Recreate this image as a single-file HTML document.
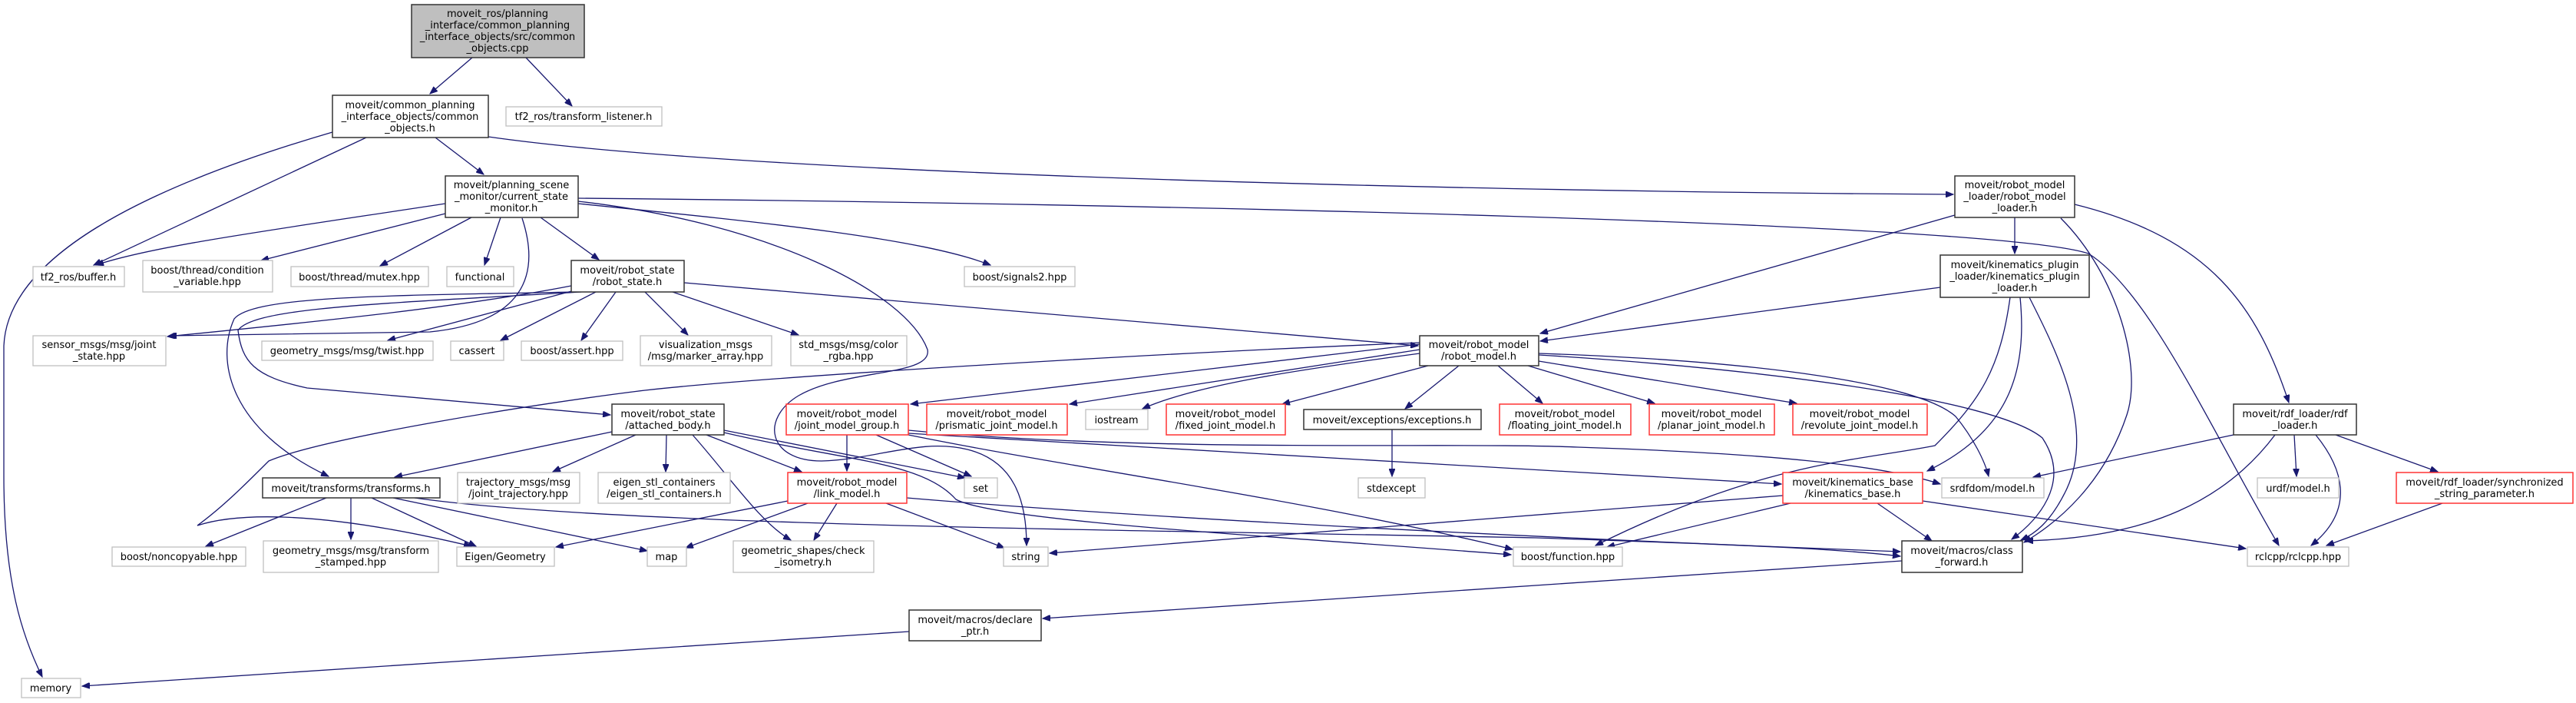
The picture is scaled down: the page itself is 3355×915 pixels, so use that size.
<!DOCTYPE html>
<html><head><meta charset="utf-8"><style>
html,body{margin:0;padding:0;background:#fff;}
svg{display:block;}
text{font-family:"DejaVu Sans","Liberation Sans",sans-serif;font-size:13px;fill:#000;text-anchor:middle;}
.e{fill:none;stroke:#191970;stroke-width:1.3;marker-end:url(#a);}
.g{fill:#fff;stroke:#bfbfbf;stroke-width:1.3;}
.k{fill:#fff;stroke:#333;stroke-width:1.5;}
.r{fill:#fff;stroke:#ff3333;stroke-width:1.5;}
.t{fill:#bfbfbf;stroke:#333;stroke-width:1.5;}
</style></head><body>
<svg width="3355" height="915" viewBox="0 0 3355 915" xmlns="http://www.w3.org/2000/svg">
<defs><marker id="a" markerWidth="11" markerHeight="8" refX="10" refY="4" orient="auto" markerUnits="userSpaceOnUse"><path d="M0,0 L10,4 L0,8 z" fill="#191970" stroke="#191970"/></marker></defs>
<g>
<path class="e" d="M615,75 L560,122"/>
<path class="e" d="M685,75 L745,138"/>
<path class="e" d="M433,172 C200,240 10,330 5,450 L5,620 C5,760 30,830 55,881"/>
<path class="e" d="M477,179 L122,345"/>
<path class="e" d="M567,179 L630,227"/>
<path class="e" d="M636,178 C1000,230 2000,250 2544,253"/>
<path class="e" d="M580,265 C350,300 200,320 125,345"/>
<path class="e" d="M580,278 L340,339"/>
<path class="e" d="M614,283 L495,346"/>
<path class="e" d="M652,283 L631,345"/>
<path class="e" d="M704,283 L780,338"/>
<path class="e" d="M753,265 C1000,290 1200,310 1290,345"/>
<path class="e" d="M753,258 C1500,265 2600,290 2720,330 C2800,380 2880,560 2968,710"/>
<path class="e" d="M680,284 C705,360 680,420 560,432 L220,437"/>
<path class="e" d="M744,372 C600,400 400,420 218,438"/>
<path class="e" d="M748,378 L505,443"/>
<path class="e" d="M776,380 L652,443"/>
<path class="e" d="M802,380 L757,443"/>
<path class="e" d="M840,380 L896,436"/>
<path class="e" d="M876,380 L1040,436"/>
<path class="e" d="M891,368 L1847,450"/>
<path class="e" d="M748,380 C500,385 330,385 305,415 C280,470 300,560 428,620"/>
<path class="e" d="M757,380 C500,395 330,400 310,430 C315,470 330,490 400,505 L795,540"/>
<path class="e" d="M753,262 C1000,290 1180,380 1208,455 C1215,490 1100,480 1040,515 C990,545 1000,600 1070,600 C1140,598 1200,570 1260,585 C1320,600 1337,650 1337,710"/>
<path class="e" d="M2546,280 L2006,434"/>
<path class="e" d="M2624,283 L2624,330"/>
<path class="e" d="M2684,284 C2760,360 2790,480 2770,540 C2740,630 2680,680 2636,706"/>
<path class="e" d="M2702,266 C2880,310 2940,400 2981,524"/>
<path class="e" d="M2527,374 L2006,444"/>
<path class="e" d="M2618,387 C2605,480 2580,520 2520,580 C2420,600 2300,600 2078,710"/>
<path class="e" d="M2631,387 C2640,480 2620,560 2510,613"/>
<path class="e" d="M2643,387 C2680,460 2730,560 2690,640 C2670,680 2650,695 2632,703"/>
<path class="e" d="M1849,448 L1186,526"/>
<path class="e" d="M1849,455 L1393,526"/>
<path class="e" d="M1849,460 C1700,480 1560,500 1488,532"/>
<path class="e" d="M1860,476 L1670,526"/>
<path class="e" d="M1900,476 L1830,532"/>
<path class="e" d="M1951,476 L2009,525"/>
<path class="e" d="M1990,476 L2155,525"/>
<path class="e" d="M2004,470 L2340,525"/>
<path class="e" d="M2004,460 C2300,470 2500,500 2547,542 C2570,570 2585,600 2590,620"/>
<path class="e" d="M2004,462 C2300,480 2600,520 2660,570 C2700,630 2650,680 2620,702"/>
<path class="e" d="M1849,446 C1500,460 1000,490 840,508 C700,525 420,570 350,600 C320,630 290,660 257,684 C300,670 400,660 614,711"/>
<path class="e" d="M1813,559 L1813,620"/>
<path class="e" d="M797,562 L514,621"/>
<path class="e" d="M828,566 L720,614"/>
<path class="e" d="M868,566 L867,614"/>
<path class="e" d="M920,566 L1044,614"/>
<path class="e" d="M902,566 C950,620 990,680 1030,703"/>
<path class="e" d="M943,560 C1100,590 1200,610 1257,622"/>
<path class="e" d="M943,563 C1100,600 1200,600 1245,650 C1300,680 1700,700 1968,722"/>
<path class="e" d="M1183,564 L2320,630"/>
<path class="e" d="M1183,560 C1500,590 1900,575 2055,582 C2300,590 2450,605 2527,630"/>
<path class="e" d="M1103,566 L1103,613"/>
<path class="e" d="M1141,566 L1265,620"/>
<path class="e" d="M1183,566 C1400,610 1700,650 1970,715"/>
<path class="e" d="M1026,652 L724,712"/>
<path class="e" d="M1052,655 L893,713"/>
<path class="e" d="M1090,655 L1060,703"/>
<path class="e" d="M1154,655 L1308,713"/>
<path class="e" d="M1181,648 C1500,675 2000,700 2475,718"/>
<path class="e" d="M425,648 L268,711"/>
<path class="e" d="M457,648 L457,702"/>
<path class="e" d="M484,648 L620,711"/>
<path class="e" d="M512,648 L843,717"/>
<path class="e" d="M540,648 C800,685 1500,690 2000,700 C2300,710 2400,715 2475,724"/>
<path class="e" d="M2322,645 L1367,720"/>
<path class="e" d="M2332,655 L2093,712"/>
<path class="e" d="M2445,655 L2516,704"/>
<path class="e" d="M2504,652 L2925,714"/>
<path class="e" d="M2477,730 L1358,805"/>
<path class="e" d="M1184,822 L107,893"/>
<path class="e" d="M2909,566 L2648,621"/>
<path class="e" d="M2963,566 C2900,650 2800,700 2638,704"/>
<path class="e" d="M2988,566 L2991,620"/>
<path class="e" d="M3016,566 C3060,620 3060,670 3010,710"/>
<path class="e" d="M3042,566 L3175,614"/>
<path class="e" d="M3181,655 L3030,710"/>
</g>
<g>
<rect class="t" x="536" y="6" width="225" height="69"/><text x="648" y="22">moveit_ros/planning</text><text x="648" y="37">_interface/common_planning</text><text x="648" y="52">_interface_objects/src/common</text><text x="648" y="67">_objects.cpp</text>
<rect class="k" x="433" y="124" width="203" height="55"/><text x="534" y="141">moveit/common_planning</text><text x="534" y="156">_interface_objects/common</text><text x="534" y="171">_objects.h</text>
<rect class="g" x="659" y="139" width="203" height="25"/><text x="760" y="156">tf2_ros/transform_listener.h</text>
<rect class="k" x="580" y="229" width="173" height="54"/><text x="666" y="245">moveit/planning_scene</text><text x="666" y="260">_monitor/current_state</text><text x="666" y="275">_monitor.h</text>
<rect class="k" x="2546" y="229" width="156" height="54"/><text x="2624" y="245">moveit/robot_model</text><text x="2624" y="260">_loader/robot_model</text><text x="2624" y="275">_loader.h</text>
<rect class="k" x="2527" y="332" width="194" height="55"/><text x="2624" y="349">moveit/kinematics_plugin</text><text x="2624" y="364">_loader/kinematics_plugin</text><text x="2624" y="379">_loader.h</text>
<rect class="g" x="43" y="347" width="119" height="26"/><text x="102" y="365">tf2_ros/buffer.h</text>
<rect class="g" x="186" y="339" width="169" height="41"/><text x="270" y="356">boost/thread/condition</text><text x="270" y="371">_variable.hpp</text>
<rect class="g" x="379" y="347" width="179" height="26"/><text x="468" y="365">boost/thread/mutex.hpp</text>
<rect class="g" x="582" y="347" width="87" height="26"/><text x="625" y="365">functional</text>
<rect class="k" x="744" y="339" width="147" height="41"/><text x="817" y="356">moveit/robot_state</text><text x="817" y="371">/robot_state.h</text>
<rect class="g" x="1256" y="347" width="144" height="26"/><text x="1328" y="365">boost/signals2.hpp</text>
<rect class="g" x="43" y="437" width="173" height="39"/><text x="129" y="453">sensor_msgs/msg/joint</text><text x="129" y="468">_state.hpp</text>
<rect class="g" x="341" y="444" width="223" height="25"/><text x="452" y="461">geometry_msgs/msg/twist.hpp</text>
<rect class="g" x="587" y="444" width="69" height="25"/><text x="621" y="461">cassert</text>
<rect class="g" x="679" y="444" width="132" height="25"/><text x="745" y="461">boost/assert.hpp</text>
<rect class="g" x="834" y="437" width="171" height="39"/><text x="919" y="453">visualization_msgs</text><text x="919" y="468">/msg/marker_array.hpp</text>
<rect class="g" x="1030" y="437" width="151" height="39"/><text x="1105" y="453">std_msgs/msg/color</text><text x="1105" y="468">_rgba.hpp</text>
<rect class="k" x="1849" y="437" width="155" height="39"/><text x="1926" y="453">moveit/robot_model</text><text x="1926" y="468">/robot_model.h</text>
<rect class="k" x="797" y="526" width="146" height="40"/><text x="870" y="543">moveit/robot_state</text><text x="870" y="558">/attached_body.h</text>
<rect class="r" x="1024" y="526" width="159" height="40"/><text x="1103" y="543">moveit/robot_model</text><text x="1103" y="558">/joint_model_group.h</text>
<rect class="r" x="1207" y="526" width="183" height="40"/><text x="1298" y="543">moveit/robot_model</text><text x="1298" y="558">/prismatic_joint_model.h</text>
<rect class="g" x="1414" y="533" width="81" height="26"/><text x="1454" y="551">iostream</text>
<rect class="r" x="1519" y="526" width="155" height="40"/><text x="1596" y="543">moveit/robot_model</text><text x="1596" y="558">/fixed_joint_model.h</text>
<rect class="k" x="1698" y="533" width="231" height="26"/><text x="1813" y="551">moveit/exceptions/exceptions.h</text>
<rect class="r" x="1953" y="526" width="171" height="40"/><text x="2038" y="543">moveit/robot_model</text><text x="2038" y="558">/floating_joint_model.h</text>
<rect class="r" x="2148" y="526" width="163" height="40"/><text x="2229" y="543">moveit/robot_model</text><text x="2229" y="558">/planar_joint_model.h</text>
<rect class="r" x="2335" y="526" width="175" height="40"/><text x="2422" y="543">moveit/robot_model</text><text x="2422" y="558">/revolute_joint_model.h</text>
<rect class="k" x="2909" y="526" width="160" height="40"/><text x="2989" y="543">moveit/rdf_loader/rdf</text><text x="2989" y="558">_loader.h</text>
<rect class="k" x="342" y="622" width="231" height="26"/><text x="457" y="640">moveit/transforms/transforms.h</text>
<rect class="g" x="596" y="615" width="159" height="40"/><text x="675" y="632">trajectory_msgs/msg</text><text x="675" y="647">/joint_trajectory.hpp</text>
<rect class="g" x="779" y="615" width="172" height="40"/><text x="865" y="632">eigen_stl_containers</text><text x="865" y="647">/eigen_stl_containers.h</text>
<rect class="r" x="1026" y="615" width="155" height="40"/><text x="1103" y="632">moveit/robot_model</text><text x="1103" y="647">/link_model.h</text>
<rect class="g" x="1256" y="622" width="43" height="26"/><text x="1277" y="640">set</text>
<rect class="g" x="1769" y="622" width="87" height="26"/><text x="1812" y="640">stdexcept</text>
<rect class="r" x="2322" y="615" width="182" height="40"/><text x="2413" y="632">moveit/kinematics_base</text><text x="2413" y="647">/kinematics_base.h</text>
<rect class="g" x="2529" y="622" width="133" height="26"/><text x="2595" y="640">srdfdom/model.h</text>
<rect class="g" x="2940" y="622" width="106" height="26"/><text x="2993" y="640">urdf/model.h</text>
<rect class="r" x="3121" y="615" width="230" height="40"/><text x="3236" y="632">moveit/rdf_loader/synchronized</text><text x="3236" y="647">_string_parameter.h</text>
<rect class="g" x="146" y="712" width="174" height="25"/><text x="233" y="729">boost/noncopyable.hpp</text>
<rect class="g" x="343" y="704" width="228" height="41"/><text x="457" y="721">geometry_msgs/msg/transform</text><text x="457" y="736">_stamped.hpp</text>
<rect class="g" x="595" y="712" width="127" height="25"/><text x="658" y="729">Eigen/Geometry</text>
<rect class="g" x="843" y="712" width="51" height="25"/><text x="868" y="729">map</text>
<rect class="g" x="955" y="704" width="183" height="41"/><text x="1046" y="721">geometric_shapes/check</text><text x="1046" y="736">_isometry.h</text>
<rect class="g" x="1307" y="712" width="58" height="25"/><text x="1336" y="729">string</text>
<rect class="g" x="1971" y="712" width="142" height="25"/><text x="2042" y="729">boost/function.hpp</text>
<rect class="k" x="2477" y="704" width="157" height="41"/><text x="2555" y="721">moveit/macros/class</text><text x="2555" y="736">_forward.h</text>
<rect class="g" x="2927" y="712" width="132" height="25"/><text x="2993" y="729">rclcpp/rclcpp.hpp</text>
<rect class="k" x="1184" y="794" width="172" height="40"/><text x="1270" y="811">moveit/macros/declare</text><text x="1270" y="826">_ptr.h</text>
<rect class="g" x="28" y="883" width="77" height="25"/><text x="66" y="900">memory</text>
</g>
</svg>
</body></html>
